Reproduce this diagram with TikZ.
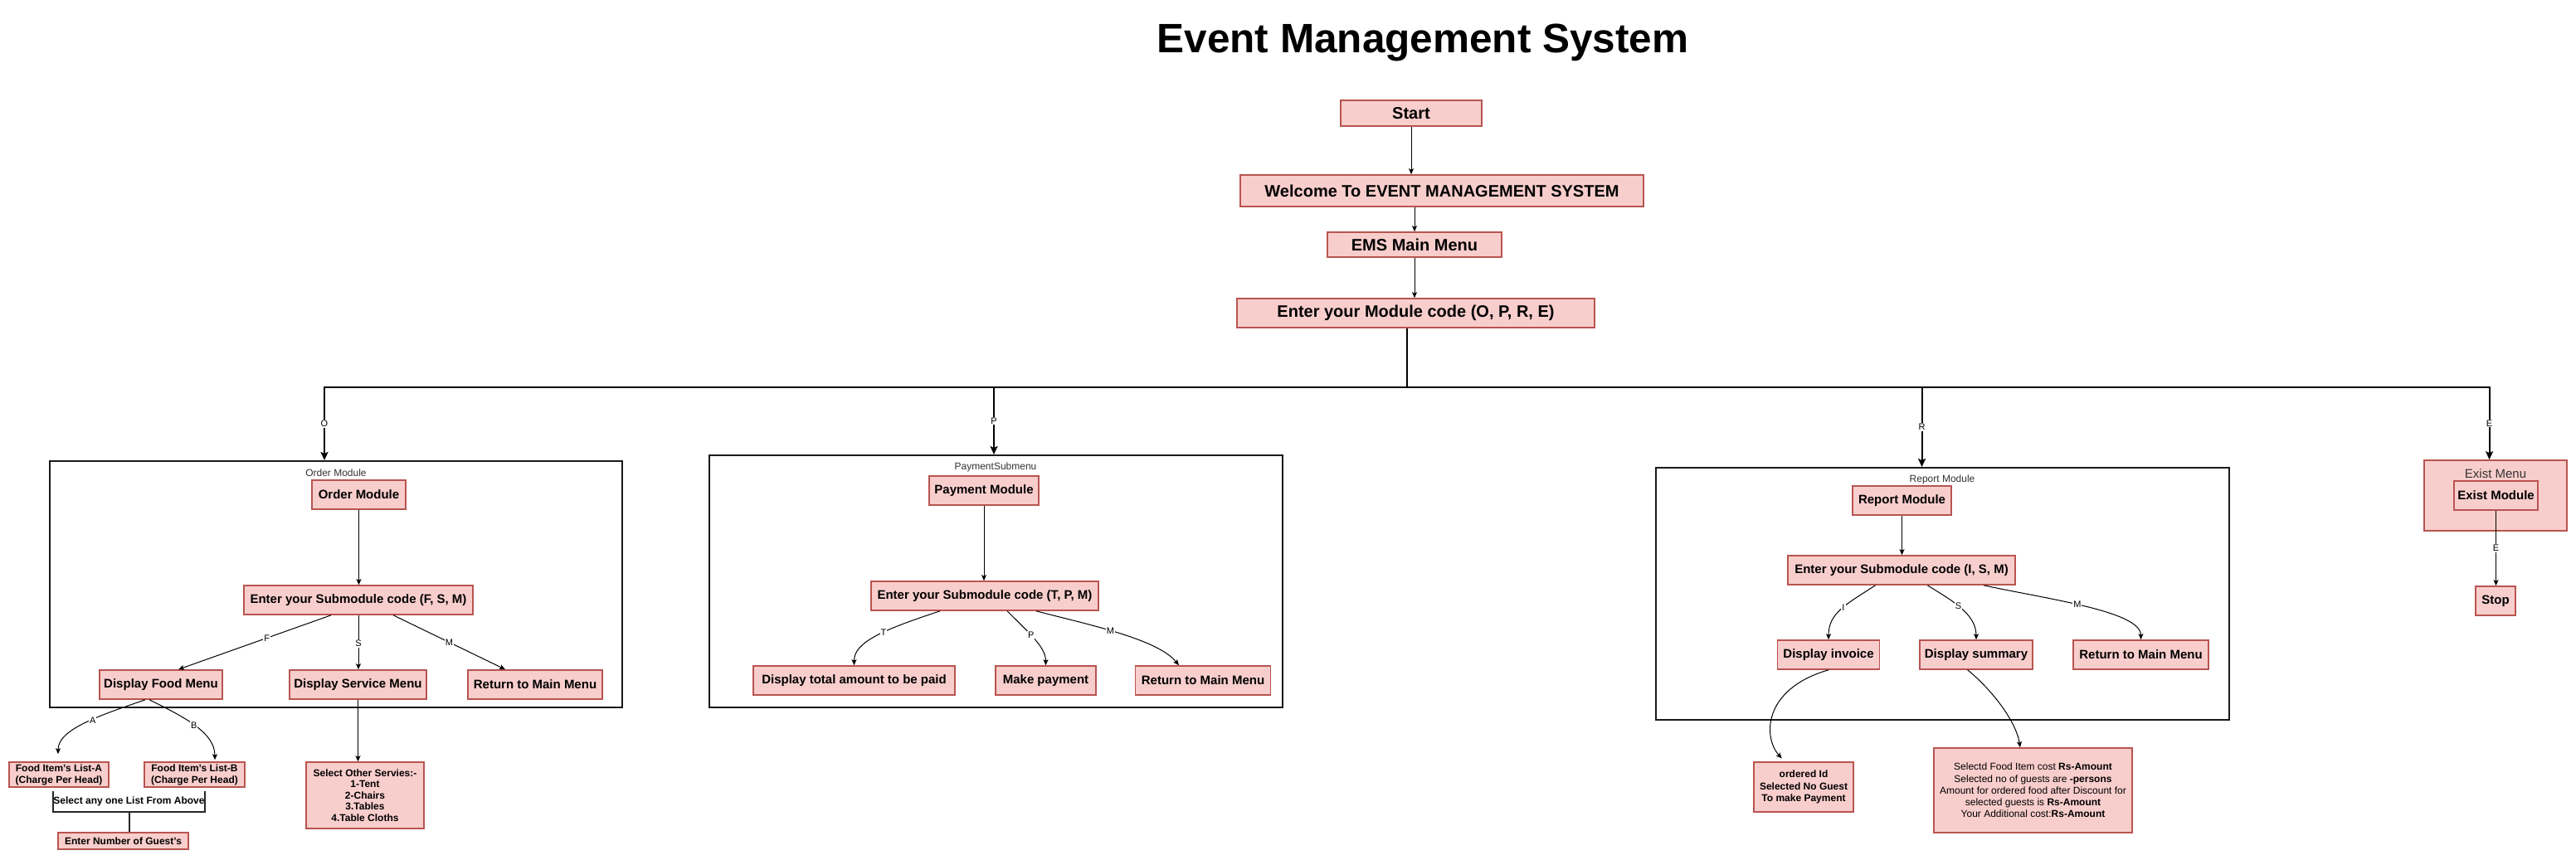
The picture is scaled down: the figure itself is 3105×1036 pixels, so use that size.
\documentclass[tikz,border=0pt]{standalone}
\usepackage{fontspec}
\setmainfont{Liberation Sans}
\usetikzlibrary{arrows.meta,calc}
\definecolor{boxfill}{HTML}{F8CECC}
\definecolor{boxline}{HTML}{B85450}
\definecolor{lblgray}{HTML}{333333}
\tikzset{
 sz/.style 2 args={minimum width=#1pt,minimum height=#2pt},
 box/.style={draw=boxline, fill=boxfill, line width=1.6pt, inner sep=0pt, align=center, font=\bfseries\fontsize{15}{18}\selectfont},
 bigbox/.style={box, font=\bfseries\fontsize{20}{24}\selectfont},
 smallbox/.style={box, font=\bfseries\fontsize{12}{14}\selectfont},
 container/.style={draw=black!90, line width=2pt, inner sep=0pt},
 clabel/.style={font=\fontsize{12}{14}\selectfont, text=lblgray, inner sep=0pt},
 elabel/.style={fill=white, font=\fontsize{11}{13}\selectfont, inner sep=1pt},
 arr/.style={draw=black, line width=1pt, -{Stealth[length=7pt,width=6pt,inset=1.5pt]}},
 bus/.style={draw=black, line width=2pt},
 busarr/.style={bus, -{Stealth[length=10pt,width=9pt,inset=2pt]}},
 plaintext/.style={inner sep=0pt, font=\bfseries\fontsize{12}{14}\selectfont},
}
\begin{document}
\begin{tikzpicture}[x=1pt,y=-1pt]
\fill[white] (0,0) rectangle (3105,1036);
\useasboundingbox (0,0) rectangle (3105,1036);

% title
\node[font=\bfseries\fontsize{49.5}{56}\selectfont, anchor=base, inner sep=0pt] (title) at (1715,63) {Event Management System};

% main flow
\node[bigbox, sz={170}{31}] (start) at (1701,136.5) {Start};
\node[bigbox, sz={486}{38}] (welcome) at (1738,230) {Welcome To EVENT MANAGEMENT SYSTEM};
\node[bigbox, sz={210}{30}] (ems) at (1705,295) {EMS Main Menu};
\node[bigbox, sz={431}{35}] (enterM) at (1706.5,377.5) {Enter your Module code (O, P, R, E)};

% containers
\node[container, sz={690}{297}] (orderC) at (405,704.5) {};
\node[container, sz={691}{304}] (payC) at (1200.5,701) {};
\node[container, sz={691}{304}] (repC) at (2341.5,716) {};
\node[box, sz={172}{85}] (exitC) at (3008,597.5) {};

\node[clabel] (orderL) at (405,570) {Order Module};
\node[clabel] (payL) at (1200,563) {PaymentSubmenu};
\node[clabel] (repL) at (2341,578) {Report Module};
\node[clabel, font=\fontsize{15}{18}\selectfont] (exitL) at (3008,571) {Exist Menu};

% order module
\node[box, sz={113}{35}] (orderMod) at (432.5,596.5) {Order Module};
\node[box, sz={276}{35}] (enterO) at (432,723.5) {Enter your Submodule code (F, S, M)};
\node[box, sz={148}{35}] (foodMenu) at (194,825.5) {Display Food Menu};
\node[box, sz={165}{35}] (servMenu) at (431.5,825.5) {Display Service Menu};
\node[box, sz={162}{35}] (retO) at (645,825.5) {Return to Main Menu};
\node[smallbox, sz={120}{30}] (listA) at (71,934) {Food Item's List-A\\(Charge Per Head)};
\node[smallbox, sz={121}{30}] (listB) at (234.5,934) {Food Item's List-B\\(Charge Per Head)};
\node[plaintext, sz={181}{25}] (sel) at (155.5,966.5) {Select any one List From Above};
\node[smallbox, sz={157}{20}] (guests) at (148.5,1014) {Enter Number of Guest's};
\node[smallbox, sz={142}{80}, font=\bfseries\fontsize{12}{13.5}\selectfont] (servBox) at (440,959) {Select Other Servies:-\\1-Tent\\2-Chairs\\3.Tables\\4.Table Cloths};

% payment module
\node[box, sz={132}{35}] (payMod) at (1186,591.5) {Payment Module};
\node[box, sz={274}{35}] (enterP) at (1187,718.5) {Enter your Submodule code (T, P, M)};
\node[box, sz={243}{35}] (total) at (1029.5,820.5) {Display total amount to be paid};
\node[box, sz={121}{35}] (makePay) at (1260.5,820.5) {Make payment};
\node[box, sz={163}{35}] (retP) at (1450,820.5) {Return to Main Menu};

% report module
\node[box, sz={119}{35}] (repMod) at (2292.5,603.5) {Report Module};
\node[box, sz={274}{35}] (enterR) at (2292,687.5) {Enter your Submodule code (I, S, M)};
\node[box, sz={123}{35}] (invoice) at (2204,789.5) {Display invoice};
\node[box, sz={136}{35}] (summary) at (2382,789.5) {Display summary};
\node[box, sz={163}{35}] (retR) at (2580.5,789.5) {Return to Main Menu};
\node[smallbox, sz={120}{60}, font=\bfseries\fontsize{12}{14.5}\selectfont] (orderedId) at (2174,949) {ordered Id\\Selected No Guest\\To make Payment};
\node[smallbox, sz={239}{102}, font=\fontsize{12}{14.2}\selectfont] (sumBox) at (2450.5,953) {Selectd Food Item cost \textbf{Rs-Amount}\\Selected no of guests are \textbf{-persons}\\Amount for ordered food after Discount for\\selected guests is \textbf{Rs-Amount}\\Your Additional cost:\textbf{Rs-Amount}};

% exit
\node[box, sz={101}{35}] (exitMod) at (3008.5,597.5) {Exist Module};
\node[box, sz={48}{35}] (stop) at (3008,724.5) {Stop};

% main connectors
\draw[arr] (start.south) -- (start.south |- welcome.north);
\draw[arr] (ems.north |- welcome.south) -- (ems.north);
\draw[arr] (ems.south) -- (ems.south |- enterM.north);

% bus
\coordinate (trunk) at ([xshift=-10.5pt]enterM.south);
\coordinate (busO) at (391,467);
\coordinate (busP) at (1198,467);
\coordinate (busR) at (2316.5,467);
\coordinate (busE) at (3000.5,467);
\coordinate (junc) at (trunk |- busO);
\draw[bus] (trunk) -- (junc);
\draw[busarr] (junc) -- (busO) -- node[elabel]{O} (busO |- orderC.north);
\draw[busarr] (junc) -- (busE) -- node[elabel]{E} (busE |- exitC.north);
\draw[busarr] (busP) -- node[elabel]{P} (busP |- payC.north);
\draw[busarr] (busR) -- node[elabel]{R} (busR |- repC.north);

% order connectors
\draw[arr] (orderMod.south) -- (orderMod.south |- enterO.north);
\draw[arr] ([xshift=-33pt]enterO.south) -- node[elabel,pos=0.42]{F} ([xshift=21pt]foodMenu.north);
\draw[arr] (enterO.south) -- node[elabel,pos=0.52]{S} (enterO.south |- servMenu.north);
\draw[arr] ([xshift=42pt]enterO.south) -- node[elabel,pos=0.5]{M} ([xshift=-36pt]retO.north);
\draw[arr, shorten >=9pt] ([xshift=-19pt]foodMenu.south) .. controls +(-55,19) and +(0,-39) .. node[elabel,pos=0.42]{A} ([xshift=-1pt]listA.north);
\draw[arr, shorten >=2pt] ([xshift=-14pt]foodMenu.south) .. controls +(45,22) and +(0,-34) .. node[elabel,pos=0.47]{B} ([xshift=24.5pt]listB.north);
\draw[arr] (servMenu.south) -- (servMenu.south |- servBox.north);
\draw[bus, draw=black!85] (sel.north west) -- (sel.south west) -- (sel.south east) -- (sel.north east);
\draw[bus, draw=black!85] (sel.south) -- (sel.south |- guests.north);

% payment connectors
\draw[arr] (payMod.south) -- (payMod.south |- enterP.north);
\draw[arr] ([xshift=-54pt]enterP.south) .. controls +(-73,24) and +(0,-27) .. node[elabel,pos=0.4]{T} (total.north);
\draw[arr] ([xshift=27pt]enterP.south) .. controls +(26,26) and +(0,-22) .. node[elabel,pos=0.42]{P} (makePay.north);
\draw[arr] ([xshift=62pt]enterP.south) .. controls +(61,16) and +(-26,-32) .. node[elabel,pos=0.45]{M} ([xshift=-29pt]retP.north);

% report connectors
\draw[arr] (repMod.south) -- (repMod.south |- enterR.north);
\draw[arr] ([xshift=-31.5pt]enterR.south) .. controls +(-35.5,23) and +(0,-32) .. node[elabel,pos=0.45]{I} (invoice.north);
\draw[arr] ([xshift=31.4pt]enterR.south) .. controls +(26.6,17) and +(0,-32) .. node[elabel,pos=0.47]{S} (summary.north);
\draw[arr] ([xshift=99pt]enterR.south) .. controls +(79,17) and +(0,-34) .. node[elabel,pos=0.45]{M} (retR.north);
\draw[arr, shorten >=5pt] (invoice.south) .. controls +(-79.5,23) and +(-26,-29) .. ([xshift=-23pt]orderedId.north);
\draw[arr] ([xshift=-10.4pt]summary.south) .. controls +(28.4,23) and +(-5,-32) .. ([xshift=-15.5pt]sumBox.north);

% exit connector
\draw[arr] (exitMod.south) -- node[elabel]{E} (exitMod.south |- stop.north);
\end{tikzpicture}
\end{document}
